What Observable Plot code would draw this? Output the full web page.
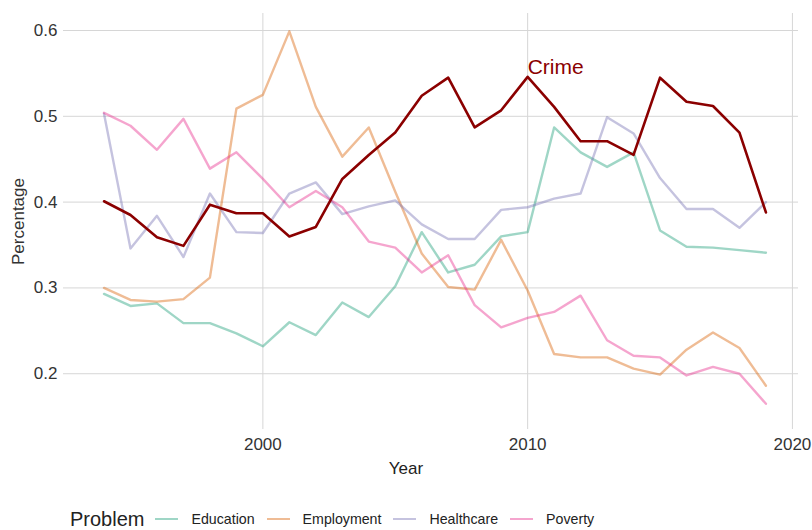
<!DOCTYPE html>
<html>
<head>
<meta charset="utf-8">
<script src="https://cdn.jsdelivr.net/npm/d3@7"></script>
<script src="https://cdn.jsdelivr.net/npm/@observablehq/plot@0.6"></script>
<style>
  html, body { margin: 0; padding: 0; background: #fff; }
  body { width: 812px; height: 530px; overflow: hidden; font-family: "Liberation Sans Narrow", "Arial Narrow", "Liberation Sans", Arial, sans-serif; }
  #legend { display: flex; align-items: center; height: 40px; padding-top: 9px; padding-left: 70px; color: #222; }
  #legend .title { font-size: 20px; margin-right: 11px; }
  #legend .item { display: flex; align-items: center; margin-right: 12px; font-size: 14.2px; }
  #legend .sw { width: 23px; height: 0; border-top: 2.5px solid; margin-right: 13px; }
</style>
</head>
<body>
<div id="chart"></div>
<div id="legend"></div>
<script>
const years = [1994,1995,1996,1997,1998,1999,2000,2001,2002,2003,2004,2005,2006,2007,2008,2009,2010,2011,2012,2013,2014,2015,2016,2017,2018,2019];
const crime      = [0.401,0.385,0.359,0.349,0.397,0.387,0.387,0.360,0.371,0.427,0.455,0.481,0.524,0.545,0.487,0.507,0.546,0.511,0.471,0.471,0.455,0.545,0.517,0.512,0.481,0.388];
const education  = [0.293,0.279,0.282,0.259,0.259,0.247,0.232,0.260,0.245,0.283,0.266,0.302,0.365,0.318,0.327,0.360,0.365,0.487,0.458,0.441,0.458,0.367,0.348,0.347,0.344,0.341];
const employment = [0.300,0.286,0.284,0.287,0.312,0.509,0.525,0.599,0.511,0.453,0.487,0.412,0.340,0.301,0.298,0.356,0.297,0.223,0.219,0.219,0.206,0.199,0.228,0.248,0.230,0.186];
const healthcare = [0.503,0.346,0.384,0.336,0.410,0.365,0.364,0.410,0.423,0.386,0.395,0.402,0.374,0.357,0.357,0.391,0.394,0.404,0.410,0.499,0.480,0.428,0.392,0.392,0.370,0.400];
const poverty    = [0.504,0.489,0.461,0.497,0.439,0.458,0.427,0.394,0.413,0.394,0.354,0.347,0.318,0.338,0.280,0.254,0.265,0.272,0.291,0.239,0.221,0.219,0.198,0.208,0.200,0.165];
const problems = ["Education","Employment","Healthcare","Poverty"];
const problemColors = ["#1B9E77","#D95F02","#7570B3","#E7298A"];
const crimeLabel = [{year: 2010, value: 0.557, text: "Crime"}];
const xTicks = [2000, 2010, 2020];
const yTicks = [0.2, 0.3, 0.4, 0.5, 0.6];

const series = {Education: education, Employment: employment, Healthcare: healthcare, Poverty: poverty};
const others = problems.flatMap(p => years.map((yr, i) => ({year: yr, value: series[p][i], problem: p})));
const crimeData = years.map((yr, i) => ({year: yr, value: crime[i]}));

const font = '"Liberation Sans Narrow", "Arial Narrow", "Liberation Sans", Arial, sans-serif';
const chart = Plot.plot({
  width: 812,
  height: 490,
  marginLeft: 63,
  marginRight: 14,
  marginTop: 13,
  marginBottom: 61,
  style: {fontFamily: font, fontSize: "17px", color: "#333", background: "#fff", overflow: "visible"},
  x: {domain: [1992.47, 2020.23]},
  y: {domain: [0.135, 0.6198]},
  color: {domain: problems, range: problemColors},
  marks: [
    Plot.gridX(xTicks, {stroke: "#d6d6d6", strokeOpacity: 1, strokeWidth: 1}),
    Plot.gridY(yTicks, {stroke: "#d6d6d6", strokeOpacity: 1, strokeWidth: 1}),
    Plot.axisX(xTicks, {tickSize: 0, tickPadding: 8, tickFormat: d => String(d), label: null, fontSize: 17, fill: "#333"}),
    Plot.text(["Year"], {frameAnchor: "bottom", dy: 44, dx: -25, fontSize: 17, fill: "#222"}),
    Plot.axisY(yTicks, {tickSize: 0, tickPadding: 6, tickFormat: d3.format(".1f"), label: "Percentage", labelAnchor: "center", labelOffset: 52, labelArrow: "none", fontSize: 17, fill: "#333"}),
    Plot.line(others, {x: "year", y: "value", z: "problem", stroke: "problem", strokeOpacity: 0.42, strokeWidth: 2.4}),
    Plot.line(crimeData, {x: "year", y: "value", stroke: "#8B0000", strokeWidth: 2.6}),
    Plot.text(crimeLabel, {x: "year", y: "value", text: "text", textAnchor: "start", fill: "#8B0000", fontSize: 21, fontFamily: "Liberation Sans, Arial, sans-serif"})
  ]
});
document.getElementById("chart").appendChild(chart);

const legend = document.getElementById("legend");
const t = document.createElement("span");
t.className = "title"; t.textContent = "Problem";
legend.appendChild(t);
problems.forEach((p, i) => {
  const item = document.createElement("span");
  item.className = "item";
  const sw = document.createElement("span");
  sw.className = "sw";
  sw.style.borderColor = problemColors[i];
  sw.style.opacity = 0.42;
  const lab = document.createElement("span");
  lab.textContent = p;
  item.appendChild(sw); item.appendChild(lab);
  legend.appendChild(item);
});
</script>
</body>
</html>
